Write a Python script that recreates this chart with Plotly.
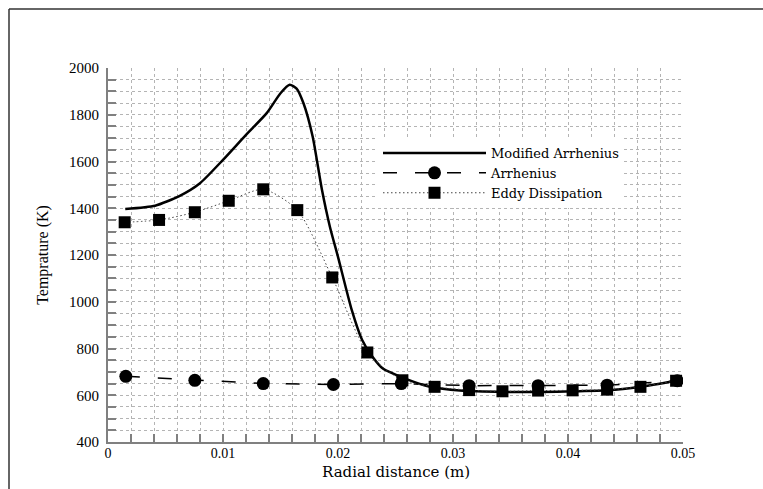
import plotly.graph_objects as go

# Modified Arrhenius (solid line)
mod_x = [0.0015, 0.0041, 0.0062, 0.0080, 0.0100, 0.0120, 0.0138, 0.0150, 0.0158, 0.0164,
         0.0170, 0.0178, 0.0186, 0.0193, 0.0200, 0.0212, 0.0221, 0.0229, 0.0239, 0.0251,
         0.0266, 0.0280, 0.0306, 0.0345, 0.0376, 0.0405, 0.0434, 0.0463, 0.0495]
mod_y = [1397, 1411, 1452, 1507, 1607, 1714, 1807, 1892, 1928, 1912,
         1849, 1706, 1480, 1320, 1192, 964, 836, 771, 714, 686,
         657, 636, 620, 614, 614, 617, 621, 636, 663]

# Arrhenius (dashed line, circles)
arr_x = [0.00155, 0.00755, 0.0135, 0.0196, 0.0255, 0.0314, 0.0374, 0.0434, 0.0495]
arr_y = [681, 664, 650, 646, 650, 641, 641, 643, 662]

# Eddy Dissipation (dotted line, squares)
edd_x = [0.00145, 0.00444, 0.00755, 0.0105, 0.0135, 0.01646, 0.0195, 0.02255, 0.0256,
         0.0284, 0.0314, 0.0343, 0.0374, 0.0404, 0.0434, 0.0463, 0.0494]
edd_y = [1340, 1350, 1383, 1432, 1481, 1392, 1104, 783, 664,
         636, 622, 617, 620, 621, 624, 636, 662]

x_ticks = [0, 0.01, 0.02, 0.03, 0.04, 0.05]
x_tick_text = ["0", "0.01", "0.02", "0.03", "0.04", "0.05"]
y_ticks = [400, 600, 800, 1000, 1200, 1400, 1600, 1800, 2000]

SERIF = "Liberation Serif"
WIDE = "DejaVu Serif"
GRID = "#b4b4b4"

fig = go.Figure()
fig.add_trace(go.Scatter(x=mod_x, y=mod_y, mode="lines", name="Modified Arrhenius",
                         line=dict(color="black", width=2.5, shape="spline", smoothing=0.6)))
fig.add_trace(go.Scatter(x=arr_x, y=arr_y, mode="lines+markers", name="Arrhenius",
                         line=dict(color="black", width=1.5, dash="14px,18px"),
                         marker=dict(symbol="circle", size=13, color="black")))
fig.add_trace(go.Scatter(x=edd_x, y=edd_y, mode="lines+markers", name="Eddy Dissipation",
                         line=dict(color="#444444", width=1, dash="1.5px,2.5px", shape="spline", smoothing=0.7),
                         marker=dict(symbol="square", size=12, color="black")))

axis_common = dict(
    showline=True, linecolor="#808080", linewidth=2, mirror=False,
    ticks="inside", ticklen=8, tickcolor="#808080", tickwidth=1.5,
    showgrid=True, gridcolor=GRID, gridwidth=1, griddash="dot",
    zeroline=False,
)

fig.update_xaxes(range=[0, 0.05], tickvals=x_ticks, ticktext=x_tick_text,
                 tickfont=dict(family=SERIF, size=14, color="black"),
                 ticklabelstandoff=-3,
                 minor=dict(dtick=0.002, ticks="inside", ticklen=8, tickcolor="#808080",
                            showgrid=True, gridcolor=GRID, griddash="dot"),
                 **axis_common)
fig.update_yaxes(range=[400, 2000], tickvals=y_ticks,
                 tickfont=dict(family=SERIF, size=15, color="black"),
                 minor=dict(dtick=50, ticks="inside", ticklen=8, tickcolor="#808080",
                            showgrid=True, gridcolor=GRID, griddash="dot"),
                 title=dict(text="Temprature (K)", font=dict(family=SERIF, size=16, color="black"),
                            standoff=16),
                 ticklabelstandoff=4,
                 **axis_common)

# x-axis title placed as annotation to match the tight spacing of the original
fig.add_annotation(text="Radial distance (m)", xref="paper", yref="paper",
                   x=0.5, y=(442 - 472) / 374, xanchor="center", yanchor="middle",
                   showarrow=False, font=dict(family=WIDE, size=15, color="black"))

# outer frame (left and top edges of the page border)
fig.add_shape(type="line", xref="paper", yref="paper",
              x0=(9 - 108) / 575, x1=(9 - 108) / 575, y0=(442 - 489) / 374, y1=(442 - 9) / 374,
              line=dict(color="#333333", width=1.5))
fig.add_shape(type="line", xref="paper", yref="paper",
              x0=(9 - 108) / 575, x1=(763 - 108) / 575, y0=(442 - 9) / 374, y1=(442 - 9) / 374,
              line=dict(color="#333333", width=1.5))

fig.update_layout(
    width=763, height=489,
    margin=dict(l=108, r=80, t=68, b=47),
    paper_bgcolor="white", plot_bgcolor="white",
    showlegend=True,
    legend=dict(x=(378 - 108) / 575, y=1 - (138 - 68) / 374, xanchor="left", yanchor="top",
                bgcolor="white", borderwidth=0, itemwidth=103, tracegroupgap=0,
                font=dict(family=WIDE, size=13, color="black")),
)

fig.write_html("out.html")
